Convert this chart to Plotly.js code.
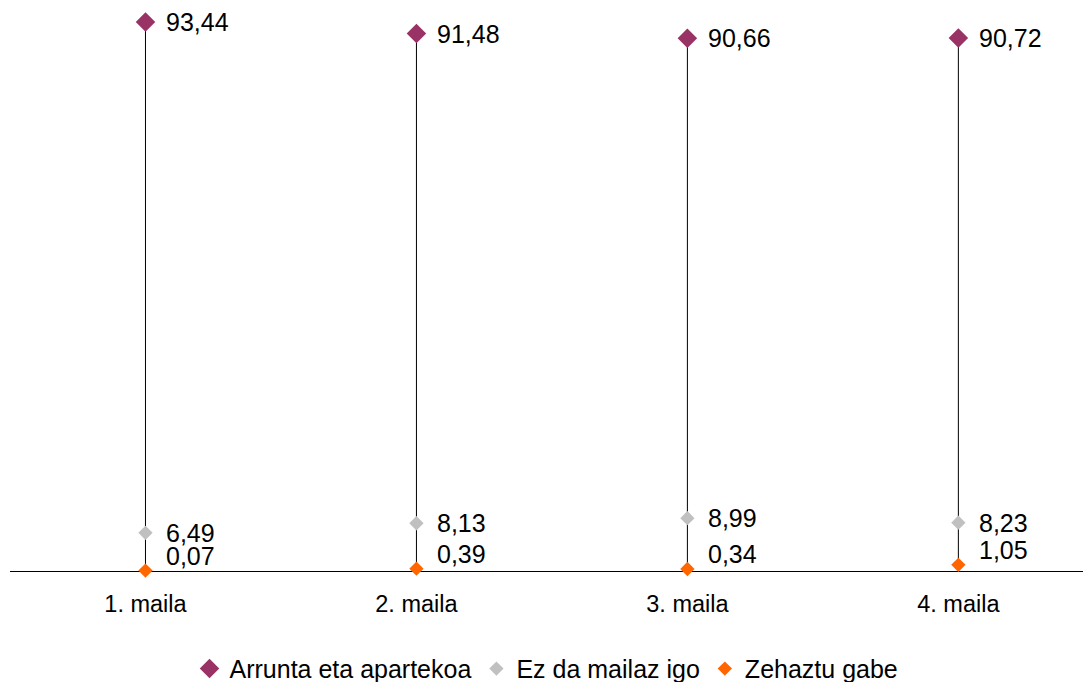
<!DOCTYPE html>
<html>
<head>
<meta charset="utf-8">
<script src="https://cdn.plot.ly/plotly-3.0.1.min.js"></script>
<style>html,body{margin:0;padding:0;background:#fff;}#chart{width:1083px;height:682px;}</style>
</head>
<body>
<div id="chart"></div>
<script>
var categories = ["1. maila", "2. maila", "3. maila", "4. maila"];
var seriesNames = ["Arrunta eta apartekoa", "Ez da mailaz igo", "Zehaztu gabe"];
var arrunta = [93.44, 91.48, 90.66, 90.72];
var ezIgo = [6.49, 8.13, 8.99, 8.23];
var zehaztuGabe = [0.07, 0.39, 0.34, 1.05];

var colors = ["#993366", "#C0C0C0", "#FF6600"];
var sizes = [15, 11, 11];
var allSeries = [arrunta, ezIgo, zehaztuGabe];
var FONT = "Liberation Sans, Arial, sans-serif";

// high-low lines
var lx = [], ly = [];
categories.forEach(function (c, i) {
  var vals = allSeries.map(function (s) { return s[i]; });
  lx.push(c, c, null);
  ly.push(0, Math.max.apply(null, vals), null);
});

var traces = [{
  x: lx, y: ly, mode: "lines", type: "scatter",
  line: {color: "#000000", width: 1}, showlegend: false, hoverinfo: "skip"
}];
allSeries.forEach(function (s, k) {
  traces.push({
    x: categories, y: s, name: seriesNames[k], type: "scatter", mode: "markers",
    marker: {symbol: "diamond", color: colors[k], size: sizes[k]},
    cliponaxis: false
  });
});

function fmt(v) { return v.toFixed(2).replace(".", ","); }
var annotations = [];
var yshifts = [0, 0, 15];
allSeries.forEach(function (s, k) {
  s.forEach(function (v, i) {
    annotations.push({
      x: categories[i], y: v, xref: "x", yref: "y", text: fmt(v), showarrow: false,
      xanchor: "left", yanchor: "middle", xshift: 19, yshift: yshifts[k],
      font: {family: FONT, size: 25, color: "#000000"}
    });
  });
});

var layout = {
  width: 1083, height: 682,
  margin: {l: 10, r: 0, t: 0, b: 111, autoexpand: false},
  paper_bgcolor: "#ffffff", plot_bgcolor: "#ffffff",
  font: {family: FONT, size: 23, color: "#000000"},
  xaxis: {
    type: "category", range: [-0.5, 3.46], showgrid: false, zeroline: false,
    showline: false, ticks: "", ticklabelstandoff: 16, automargin: false,
    tickfont: {family: FONT, size: 23.5, color: "#000000"}
  },
  yaxis: {
    range: [0, 97.19], showgrid: false, zeroline: true, zerolinecolor: "#000000",
    zerolinewidth: 1, showticklabels: false, ticks: "", showline: false, automargin: false
  },
  showlegend: true,
  legend: {
    orientation: "h", x: 0.5, xanchor: "center", y: -0.131, yanchor: "top",
    font: {family: FONT, size: 25, color: "#000000"}
  },
  annotations: annotations
};

Plotly.newPlot("chart", traces, layout, {displayModeBar: false, staticPlot: true});
</script>
</body>
</html>
